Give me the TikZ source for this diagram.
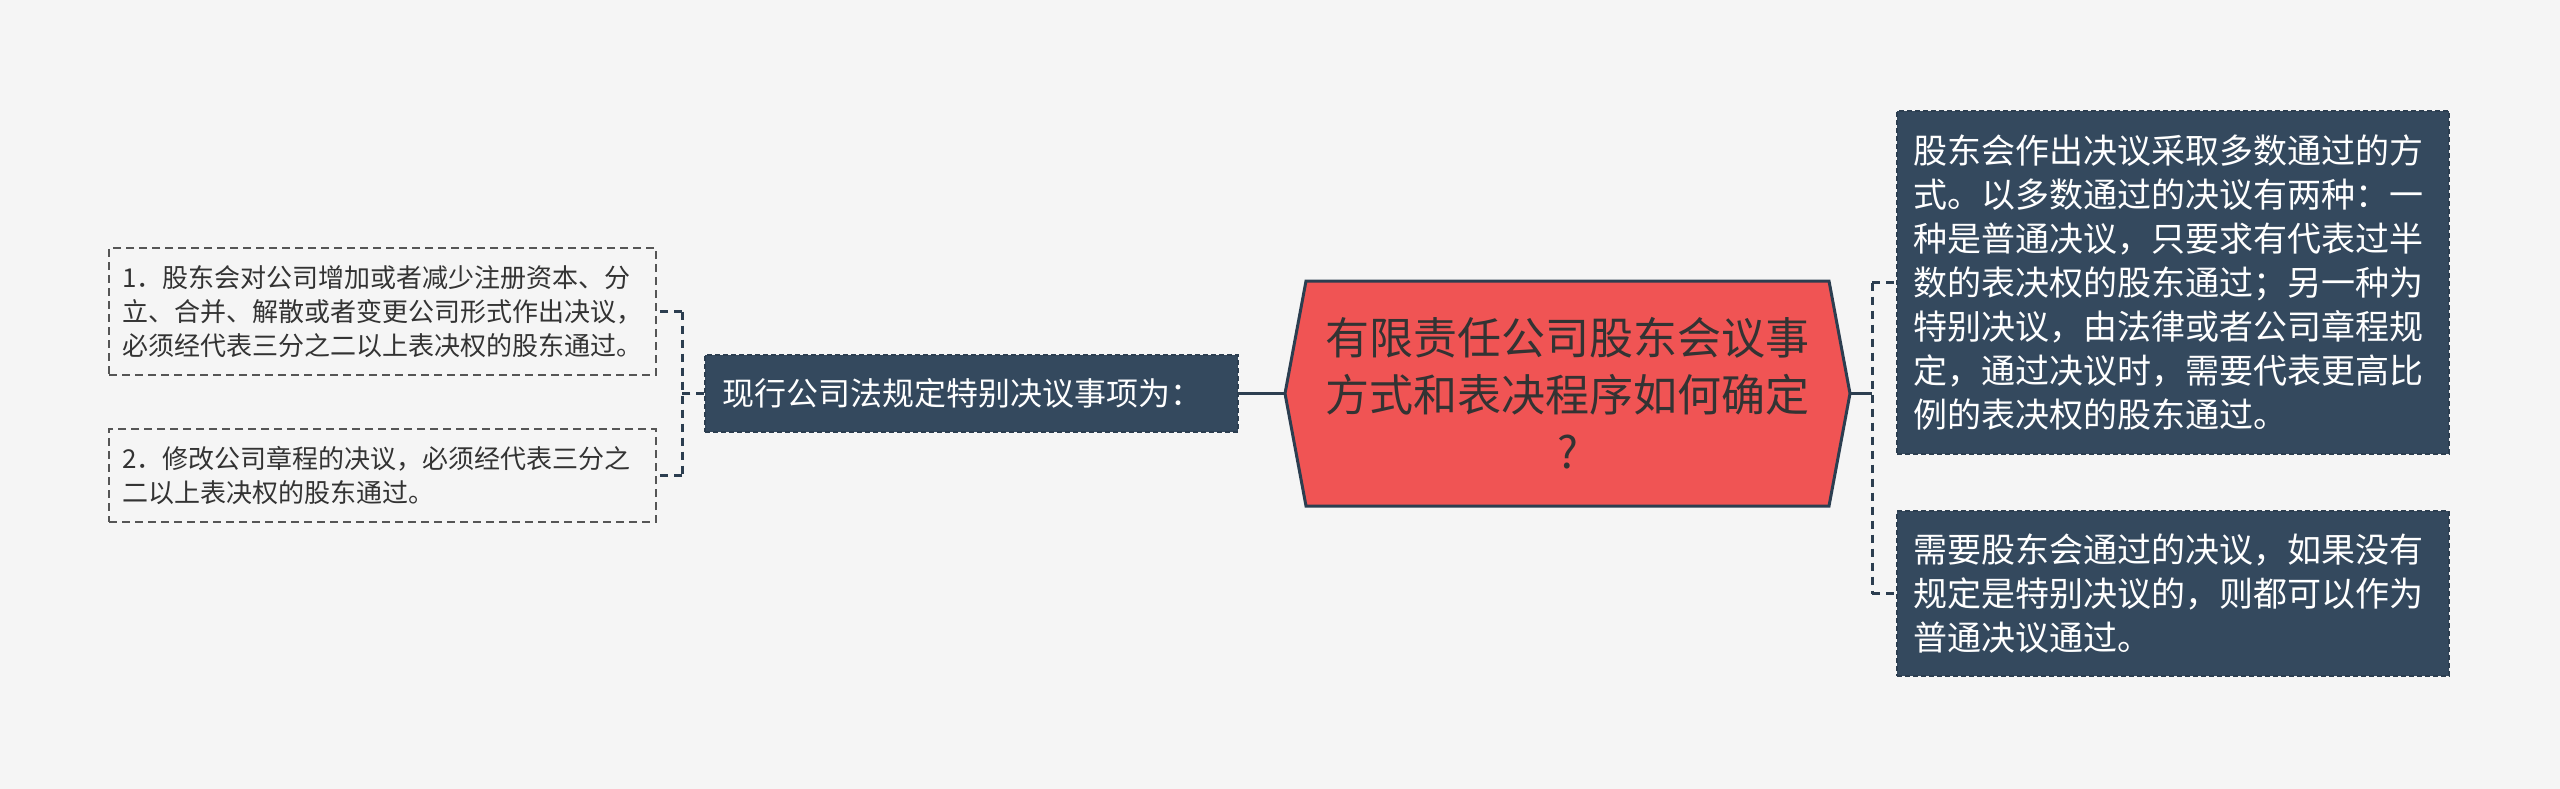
\documentclass[tikz,border=0pt]{standalone}
\usepackage{fontspec}
\setmainfont{Noto Sans CJK SC}
\usetikzlibrary{calc}
\definecolor{bgc}{HTML}{F5F5F5}
\definecolor{darkfill}{HTML}{34495E}
\definecolor{darkline}{HTML}{2C3E50}
\definecolor{hexred}{HTML}{F05454}
\definecolor{txtc}{HTML}{333333}
\definecolor{greyline}{HTML}{555555}
\begin{document}
\begin{tikzpicture}[x=1pt,y=-1pt,
  darkbox/.style={draw=darkline, dash pattern=on 5pt off 3pt, line width=1.5pt, fill=darkfill, text=white, inner sep=0pt, align=left},
  lightbox/.style={draw=greyline, dash pattern=on 8pt off 5pt, line width=2pt, text=txtc, inner sep=0pt, align=left},
  solidc/.style={draw=darkline, line width=3pt},
  dashc/.style={draw=darkline, line width=3pt, dash pattern=on 8pt off 6pt},
  hextext/.style={text=txtc, align=center, inner sep=0pt, font=\fontsize{44}{57}\selectfont}
]
\fill[bgc] (0,0) rectangle (2560,789);
\useasboundingbox (0,0) rectangle (2560,789);

% central hexagon
\coordinate (cl) at (1285,393.5);
\coordinate (cr) at (1850,393.5);
\filldraw[fill=hexred, draw=darkline, line width=3pt, line join=miter]
  (1306,281) -- (1829,281) -- (cr) -- (1829,506) -- (1306,506) -- (cl) -- cycle;
\node[hextext] (c) at (1567.5,393.5) {有限责任公司股东会议事\\方式和表决程序如何确定\\?};

% right boxes
\node[darkbox, minimum width=552pt, minimum height=343pt, text width=520pt, font=\fontsize{34}{44}\selectfont] (r1) at (2173,282.5)
{股东会作出决议采取多数通过的方\\式。以多数通过的决议有两种：一\\种是普通决议，只要求有代表过半\\数的表决权的股东通过；另一种为\\特别决议，由法律或者公司章程规\\定，通过决议时，需要代表更高比\\例的表决权的股东通过。};
\node[darkbox, minimum width=552pt, minimum height=165pt, text width=520pt, font=\fontsize{34}{44}\selectfont] (r2) at (2173,593.5)
{需要股东会通过的决议，如果没有\\规定是特别决议的，则都可以作为\\普通决议通过。};

% left middle
\node[darkbox, minimum width=533pt, minimum height=77pt, text width=499pt, font=\fontsize{32}{40}\selectfont] (lm) at (971.5,393.5)
{现行公司法规定特别决议事项为：};

% left boxes
\node[lightbox, minimum width=547pt, minimum height=127pt, text width=520pt, font=\fontsize{26}{34}\selectfont] (l1) at (382.5,311.5)
{1．股东会对公司增加或者减少注册资本、分\\立、合并、解散或者变更公司形式作出决议，\\必须经代表三分之二以上表决权的股东通过。};
\node[lightbox, minimum width=547pt, minimum height=93pt, text width=520pt, font=\fontsize{26}{34}\selectfont] (l2) at (382.5,475.5)
{2．修改公司章程的决议，必须经代表三分之\\二以上表决权的股东通过。};

% connectors right
\coordinate (rj) at (1872,393.5);
\draw[solidc] (cr) -- (rj);
\draw[dashc] (rj |- r1.west) -- (rj |- r2.west);
\draw[dashc] (rj |- r1.west) -- (r1.west);
\draw[dashc] (rj |- r2.west) -- (r2.west);

% connectors left
\draw[solidc] (lm.east) -- (cl);
\coordinate (lj) at (682,393.5);
\draw[dashc] (lm.west) -- (lj);
\draw[dashc] (lj |- l1.east) -- (lj |- l2.east);
\draw[dashc] (lj |- l1.east) -- (l1.east);
\draw[dashc] (lj |- l2.east) -- (l2.east);
\end{tikzpicture}
\end{document}
